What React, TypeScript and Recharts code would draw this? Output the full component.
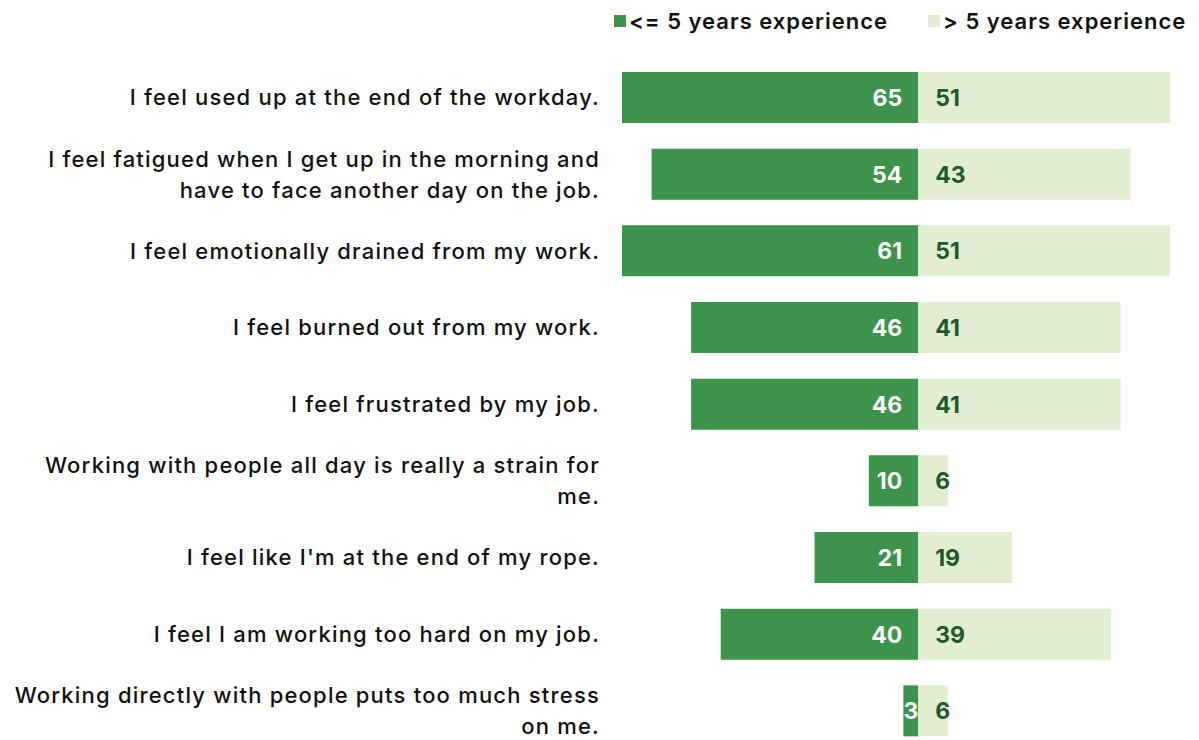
import React from "react";
import { BarChart, Bar, XAxis, YAxis, Legend, LabelList } from "recharts";

const categories = [
  "I feel used up at the end of the workday.",
  "I feel fatigued when I get up in the morning and\nhave to face another day on the job.",
  "I feel emotionally drained from my work.",
  "I feel burned out from my work.",
  "I feel frustrated by my job.",
  "Working with people all day is really a strain for\nme.",
  "I feel like I'm at the end of my rope.",
  "I feel I am working too hard on my job.",
  "Working directly with people puts too much stress\non me.",
];
const lessThan5 = [65, 54, 61, 46, 46, 10, 21, 40, 3];
const moreThan5 = [51, 43, 51, 41, 41, 6, 19, 39, 6];
const seriesNames = ["<= 5 years experience", "> 5 years experience"];

const DARK = "#3b9449";
const LIGHT = "#e2eed1";
const LABEL_DARK = "#1c5a2b";
const FONT = "Inter, 'Noto Sans', sans-serif";

const data = categories.map((name, i) => ({
  name,
  left: -lessThan5[i],
  right: moreThan5[i],
}));

const CategoryTick = (props: any) => {
  const { x, y, payload } = props;
  const lines = String(payload.value).split("\n");
  const lh = 31;
  const start = -((lines.length - 1) / 2) * lh;
  return (
    <text x={x} y={y} textAnchor="end" fill="#111" fontSize={22} fontWeight={500} fontFamily={FONT} letterSpacing={1.2}>
      {lines.map((l, i) => (
        <tspan key={i} x={x} dy={i === 0 ? start + 8 : lh}>
          {l}
        </tspan>
      ))}
    </text>
  );
};

const LeftLabel = (props: any) => {
  const { x, y, width, height, value } = props;
  const zero = Math.max(x, x + width);
  const w = Math.abs(width);
  const txt = String(Math.abs(value));
  const tw = txt.length * 14;
  const narrow = w < tw + 16;
  return (
    <text
      x={narrow ? zero - w / 2 : zero - 16}
      y={y + height / 2 + 8.5}
      textAnchor={narrow ? "middle" : "end"}
      fill="#fff"
      fontSize={23}
      fontWeight={700}
      fontFamily={FONT}
    >
      {txt}
    </text>
  );
};

const RightLabel = (props: any) => {
  const { x, y, width, height, value } = props;
  const zero = Math.min(x, x + width);
  return (
    <text x={zero + 17} y={y + height / 2 + 8.5} textAnchor="start" fill={LABEL_DARK} fontSize={23} fontWeight={700} fontFamily={FONT}>
      {value}
    </text>
  );
};

const LegendContent = () => (
  <div style={{ display: "flex", alignItems: "center", fontFamily: FONT, fontSize: 22, fontWeight: 600, color: "#111", height: 40, letterSpacing: 1 }}>
    {[DARK, LIGHT].map((c, i) => (
      <div key={i} style={{ display: "flex", alignItems: "center", marginRight: i === 0 ? 40 : 0 }}>
        <span style={{ display: "inline-block", width: 12, height: 12, background: c, marginRight: 3 }} />
        <span>{seriesNames[i]}</span>
      </div>
    ))}
  </div>
);

export default function App() {
  return (
    <div style={{ position: "absolute", left: 0, top: 0, width: 1199, height: 750, background: "#fff" }}>
      <BarChart
        width={1199}
        height={750}
        data={data}
        layout="vertical"
        stackOffset="sign"
        margin={{ top: 19, right: 29, bottom: 1, left: 0 }}
      >
        <XAxis type="number" domain={[-60, 51]} allowDataOverflow hide />
        <YAxis
          type="category"
          dataKey="name"
          width={622}
          axisLine={false}
          tickLine={false}
          tickMargin={16}
          tick={<CategoryTick />}
          interval={0}
        />
        <Legend
          verticalAlign="top"
          content={<LegendContent />}
          wrapperStyle={{ top: 1, left: 614, width: 585, height: 40 }}
        />
        <Bar dataKey="left" stackId="a" fill={DARK} barSize={51} isAnimationActive={false}>
          <LabelList dataKey="left" content={<LeftLabel />} />
        </Bar>
        <Bar dataKey="right" stackId="a" fill={LIGHT} barSize={51} isAnimationActive={false}>
          <LabelList dataKey="right" content={<RightLabel />} />
        </Bar>
      </BarChart>
    </div>
  );
}
